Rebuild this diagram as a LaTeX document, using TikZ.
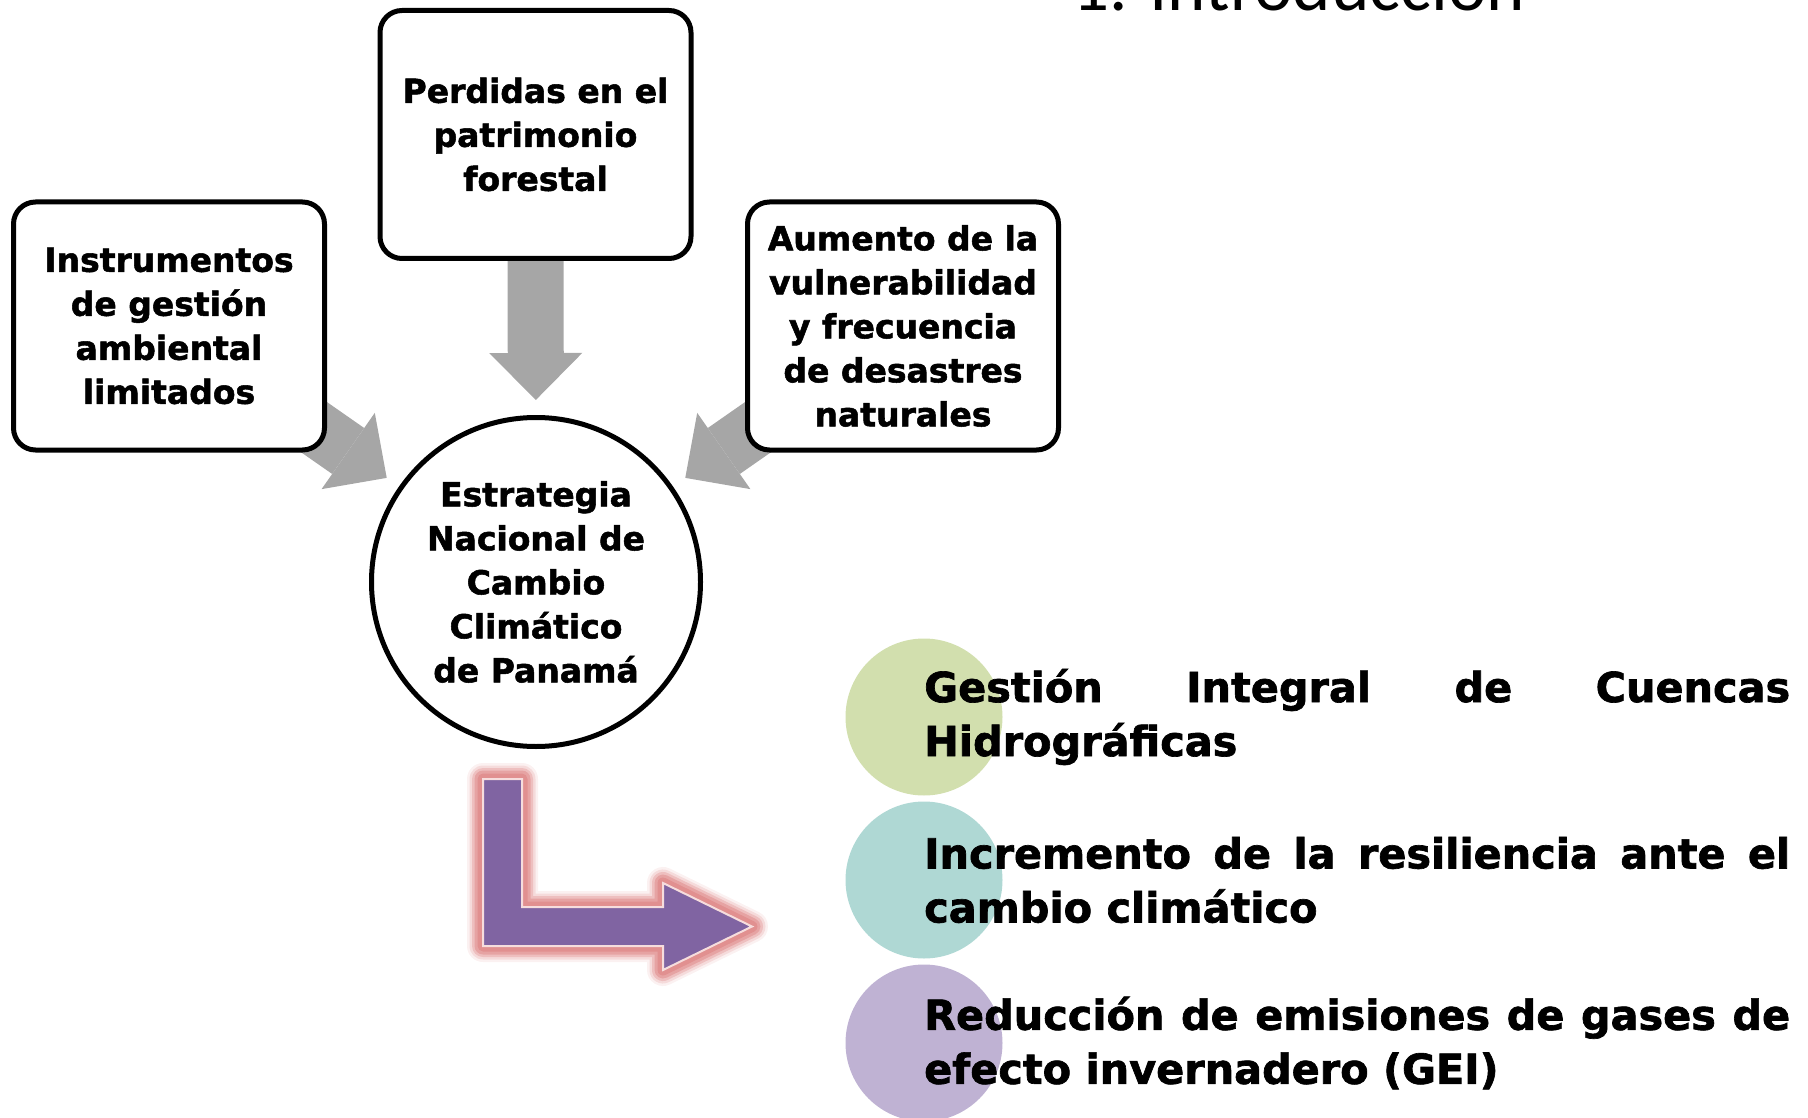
\documentclass[tikz,border=0pt]{standalone}
\usepackage{fontspec}
\setmainfont{DejaVu Sans}[BoldFeatures={FakeBold=1.6}]
\newfontfamily\titlefont{Carlito}
\usepackage{xcolor}
\usetikzlibrary{positioning,arrows.meta,backgrounds}

\definecolor{arrowgray}{HTML}{A6A6A6}
\definecolor{goalgreen}{HTML}{D2DFAE}
\definecolor{goalteal}{HTML}{AFD8D4}
\definecolor{goalpurple}{HTML}{BFB2D3}
\definecolor{bendpurple}{HTML}{8064A2}
\definecolor{glowred}{HTML}{E08C8C}

\hyphenpenalty=10000
\tolerance=10000

\begin{document}
\begin{tikzpicture}[x=1pt, y=-1pt]
    \tikzstyle{block} = [draw, fill=white, line width=5pt, rounded corners=22pt, minimum width=311pt, minimum height=248pt, align=center, font=\bfseries\fontsize{33}{44}\selectfont]
    \tikzstyle{hub} = [draw, fill=white, circle, line width=5pt, minimum size=329pt, align=center, font=\bfseries\fontsize{33}{44}\selectfont]
    \tikzstyle{feed} = [line width=56pt, arrowgray, -{Triangle[width=93pt, length=47pt, line width=0pt]}, shorten >=15pt]
    \tikzstyle{goal} = [circle, minimum size=157pt, inner sep=0pt]
    \tikzstyle{goaltext} = [anchor=west, inner sep=0pt, text width=866pt, align=justify, font=\bfseries\fontsize{41.4}{54}\selectfont]
    \def\bendpath{(483,779) -- (522,779) -- (522,907) -- (663,907) -- (663,883) -- (752,926.5) -- (663,970) -- (663,946) -- (483,946) -- cycle}

    \useasboundingbox (0,0) rectangle (1808,1118);
    \clip (0,0) rectangle (1808,1118);

    \node[anchor=base west, inner sep=0pt, font=\titlefont\fontsize{73}{80}\selectfont] (title) at (1072,11) {1. Introducción};

    \node[hub] (estrategia) at (536,582) {Estrategia\\Nacional de\\Cambio\\Climático\\de Panamá};
    \node[block] (perdidas) at (535.5,134.5) {Perdidas en el\\patrimonio\\forestal};
    \node[block] (instrumentos) at (169,326) {Instrumentos\\de gestión\\ambiental\\limitados};
    \node[block] (aumento) at (903,326) {Aumento de la\\vulnerabilidad\\y frecuencia\\de desastres\\naturales};

    \begin{scope}[on background layer]
        \draw[feed] (perdidas.center) -- (estrategia);
        \draw[feed] (instrumentos.center) -- (estrategia);
        \draw[feed] (aumento.center) -- (estrategia);
    \end{scope}

    % bent arrow with soft glow
    \foreach \w/\o in {32/0.12, 27/0.22, 22/0.35, 17/0.55, 11/0.85}
        \draw[glowred, line width=\w pt, opacity=\o, line join=round] \bendpath;
    \fill[bendpurple, draw=white!70!glowred, line width=2pt] \bendpath;

    \node[goal, fill=goalgreen] (cuencas) at (924,717) {};
    \node[goal, fill=goalteal] (resiliencia) at (924,880) {};
    \node[goal, fill=goalpurple] (emisiones) at (924,1043) {};

    \node[goaltext] (cuencastxt) at (cuencas.center) {Gestión Integral de Cuencas Hidrográficas};
    \node[goaltext] (resilienciatxt) at (resiliencia.center) {Incremento de la resiliencia ante el cambio climático};
    \node[goaltext] (emisionestxt) at (emisiones.center) {Reducción de emisiones de gases de efecto invernadero (GEI)};
\end{tikzpicture}
\end{document}
